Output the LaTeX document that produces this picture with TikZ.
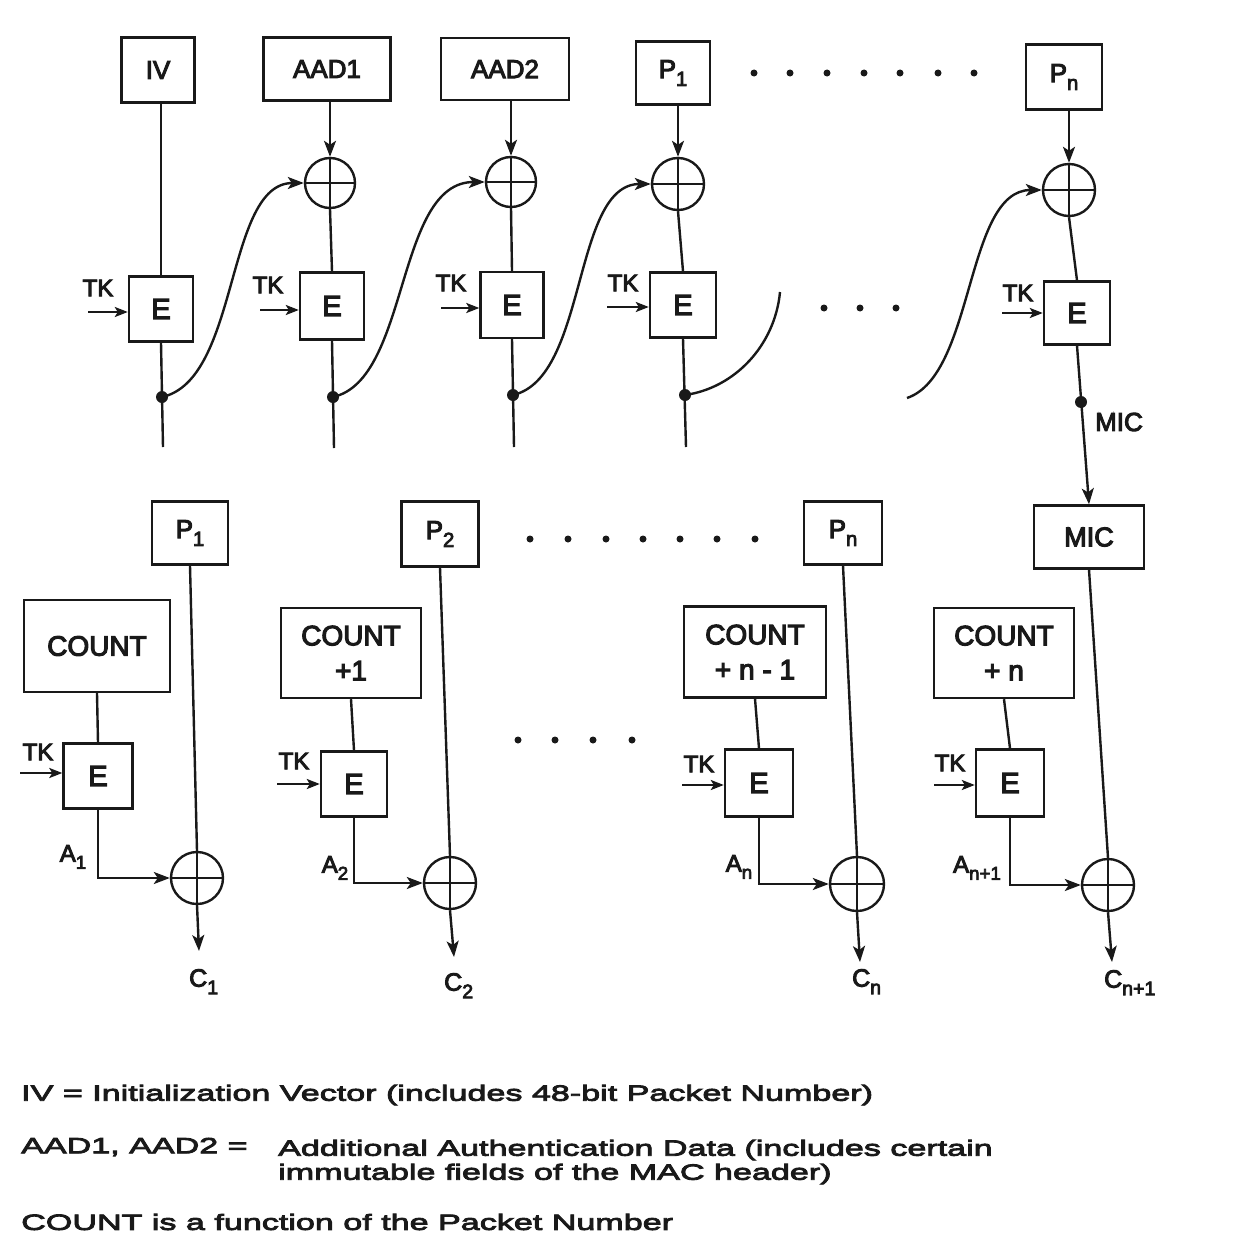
\documentclass[tikz,border=0pt]{standalone}
\usepackage{fontspec}
\usepackage{graphicx}
\setmainfont[FakeBold=4]{Liberation Sans}
\newfontfamily\legfont[FakeStretch=1.55,FakeBold=4]{Liberation Sans}
\usetikzlibrary{arrows.meta}
\definecolor{ink}{RGB}{25,25,25}
\newcommand\lsub[1]{\raisebox{-0.3em}{\scalebox{0.78}{#1}}}
\newcommand\fsz[1]{\fontsize{#1}{#1}\selectfont}
\begin{document}
\begin{tikzpicture}[x=1pt, y=-1pt, line width=2.4pt, color=ink,
  bx/.style={draw, line width=2.4pt, inner sep=0pt, font=\fsz{26}},
  ebx/.style={bx, font=\fsz{29}},
  cnt/.style={bx, align=center, font=\fontsize{28}{35}\selectfont},
  xorc/.style={circle, draw, line width=2.4pt, inner sep=0pt, minimum size=#1,
    path picture={\draw[line width=2.4pt] (path picture bounding box.north) -- (path picture bounding box.south)
      (path picture bounding box.west) -- (path picture bounding box.east);}},
  dotn/.style={circle, fill, inner sep=0pt, minimum size=12pt},
  sdot/.style={circle, fill, inner sep=0pt, minimum size=7pt},
  lbl/.style={inner sep=1pt, font=\fsz{24}},
  clbl/.style={inner sep=0pt, anchor=north west, font=\fsz{25}},
  arr/.style={-{Stealth[length=16pt,width=12pt,inset=4pt]}},
  arrs/.style={-{Stealth[length=13pt,width=10pt,inset=3pt]}},
  leg/.style={anchor=west, inner sep=0pt, font=\legfont\fsz{22}}]
\fill[white] (0,0) rectangle (1247,1239);
\useasboundingbox (0,0) rectangle (1247,1239);

% ---------------- top row ----------------
\node[bx, minimum width=73pt, minimum height=65pt] (iv) at (158,70) {IV};
\node[bx, minimum width=127pt, minimum height=63pt] (aad1) at (327,69) {AAD1};
\node[bx, minimum width=128pt, minimum height=62pt] (aad2) at (505,69) {AAD2};
\node[bx, minimum width=74pt, minimum height=63pt] (pt1) at (673,73) {P\lsub{1}};
\node[bx, minimum width=76pt, minimum height=65pt] (ptn) at (1064,77) {P\lsub{n}};

\node[xorc=50pt] (x1) at (330,183) {};
\node[xorc=50pt] (x2) at (511,182) {};
\node[xorc=52pt] (x3) at (678,184) {};
\node[xorc=52pt] (x4) at (1069,190) {};

\node[ebx, minimum width=64pt, minimum height=65pt] (e1) at (161,309) {E};
\node[ebx, minimum width=64pt, minimum height=67pt] (e2) at (332,306) {E};
\node[ebx, minimum width=63pt, minimum height=66pt] (e3) at (512,305) {E};
\node[ebx, minimum width=66pt, minimum height=65pt] (e4) at (683,305) {E};
\node[ebx, minimum width=66pt, minimum height=63pt] (e5) at (1077,313) {E};

\coordinate (b1) at (163,447);
\coordinate (b2) at (334,448);
\coordinate (b3) at (514,447);
\coordinate (b4) at (686,447);

\draw (iv.south -| e1.north) -- (e1.north);
\draw (e1.south) -- (b1);
\draw[arr] (aad1.south -| x1.north) -- (x1.north);
\draw (x1.south) -- (e2.north);
\draw (e2.south) -- (b2);
\draw[arr] (aad2.south -| x2.north) -- (x2.north);
\draw (x2.south) -- (e3.north);
\draw (e3.south) -- (b3);
\draw[arr] (pt1.south -| x3.north) -- (x3.north);
\draw (x3.south) -- (e4.north);
\draw (e4.south) -- (b4);
\draw[arr] (ptn.south -| x4.north) -- (x4.north);
\draw (x4.south) -- (e5.north);

\node[dotn] (d1) at (162,397) {};
\node[dotn] (d2) at (333,397) {};
\node[dotn] (d3) at (513,395) {};
\node[dotn] (d4) at (685,395) {};
\node[dotn] (d5) at (1081,402) {};

\draw[arr] (d1.center) .. controls (240,380) and (225,183) .. (x1.west);
\draw[arr] (d2.center) .. controls (410,380) and (395,182) .. (x2.west);
\draw[arr] (d3.center) .. controls (588,378) and (572,184) .. (x3.west);
\coordinate (f4) at (780,292);
\draw (d4.center) .. controls (735,388) and (775,345) .. (f4);
\coordinate (f5) at (907,398);
\draw[arr] (f5) .. controls (975,375) and (965,190) .. (x4.west);

% TK inputs (top)
\node[lbl] (tk1) at (98,288) {TK};
\coordinate (t1) at (88,312);
\draw[arrs] (t1) -- (t1 -| e1.west);
\node[lbl] (tk2) at (268,285) {TK};
\coordinate (t2) at (260,310);
\draw[arrs] (t2) -- (t2 -| e2.west);
\node[lbl] (tk3) at (451,283) {TK};
\coordinate (t3) at (441,308);
\draw[arrs] (t3) -- (t3 -| e3.west);
\node[lbl] (tk4) at (623,283) {TK};
\coordinate (t4) at (607,307);
\draw[arrs] (t4) -- (t4 -| e4.west);
\node[lbl] (tk5) at (1018,293) {TK};
\coordinate (t5) at (1002,313);
\draw[arrs] (t5) -- (t5 -| e5.west);

\node[lbl, font=\fsz{26}] (miclbl) at (1119,422) {MIC};

\foreach \xx in {754,790,827,864,900,938,974} \node[sdot] (sa\xx) at (\xx,73) {};
\foreach \xx in {824,860,896} \node[sdot] (sb\xx) at (\xx,308) {};

% ---------------- bottom row ----------------
\node[bx, minimum width=76pt, minimum height=63pt] (pb1) at (190,533) {P\lsub{1}};
\node[bx, minimum width=77pt, minimum height=65pt] (pb2) at (440,534) {P\lsub{2}};
\node[bx, minimum width=78pt, minimum height=63pt] (pbn) at (843,533) {P\lsub{n}};
\node[bx, minimum width=110pt, minimum height=63pt, font=\fsz{27}] (micb) at (1089,537) {MIC};

\draw[arr] (e5.south) -- (micb.north);

\node[bx, minimum width=146pt, minimum height=92pt, font=\fsz{28}] (cnt1) at (97,646) {COUNT};
\node[cnt, minimum width=140pt, minimum height=90pt] (cnt2) at (351,653) {COUNT\\+1};
\node[cnt, minimum width=142pt, minimum height=91pt] (cnt3) at (755,652) {COUNT\\+ n - 1};
\node[cnt, minimum width=140pt, minimum height=90pt] (cnt4) at (1004,653) {COUNT\\+ n};

\node[ebx, minimum width=69pt, minimum height=65pt] (e6) at (98,776) {E};
\node[ebx, minimum width=66pt, minimum height=65pt] (e7) at (354,784) {E};
\node[ebx, minimum width=68pt, minimum height=67pt] (e8) at (759,783) {E};
\node[ebx, minimum width=68pt, minimum height=67pt] (e9) at (1010,783) {E};

\node[xorc=52pt] (x5) at (197,878) {};
\node[xorc=52pt] (x6) at (450,883) {};
\node[xorc=54pt] (x7) at (857,884) {};
\node[xorc=52pt] (x8) at (1108,885) {};

\coordinate (tp1) at (199,951);
\coordinate (tp2) at (454,957);
\coordinate (tpn) at (860,962);
\coordinate (tpn1) at (1112,962);
\node[clbl] (c1) at (188,968) {C\lsub{1}};
\node[clbl] (c2) at (443,972) {C\lsub{2}};
\node[clbl] (cn) at (851,968) {C\lsub{n}};
\node[clbl] (cn1) at (1103,969) {C\lsub{n+1}};

\node[lbl] (a1) at (73,857) {A\lsub{1}};
\node[lbl] (a2) at (335,868) {A\lsub{2}};
\node[lbl] (an) at (739,867) {A\lsub{n}};
\node[lbl] (an1) at (977,868) {A\lsub{n+1}};

\draw (pb1.south) -- (x5.north);
\draw[arr] (x5.south) -- (tp1);
\draw (cnt1.south) -- (e6.north);
\draw[arr] (e6.south) |- (x5.west);

\draw (pb2.south) -- (x6.north);
\draw[arr] (x6.south) -- (tp2);
\draw (cnt2.south) -- (e7.north);
\draw[arr] (e7.south) |- (x6.west);

\draw (pbn.south) -- (x7.north);
\draw[arr] (x7.south) -- (tpn);
\draw (cnt3.south) -- (e8.north);
\draw[arr] (e8.south) |- (x7.west);

\draw (micb.south) -- (x8.north);
\draw[arr] (x8.south) -- (tpn1);
\draw (cnt4.south) -- (e9.north);
\draw[arr] (e9.south) |- (x8.west);

% TK inputs (bottom)
\node[lbl] (tk6) at (38,752) {TK};
\coordinate (t6) at (20,773);
\draw[arrs] (t6) -- (t6 -| e6.west);
\node[lbl] (tk7) at (294,761) {TK};
\coordinate (t7) at (277,784);
\draw[arrs] (t7) -- (t7 -| e7.west);
\node[lbl] (tk8) at (699,764) {TK};
\coordinate (t8) at (682,785);
\draw[arrs] (t8) -- (t8 -| e8.west);
\node[lbl] (tk9) at (950,763) {TK};
\coordinate (t9) at (934,785);
\draw[arrs] (t9) -- (t9 -| e9.west);

\foreach \xx in {530,568,606,643,680,717,755} \node[sdot] (sc\xx) at (\xx,539) {};
\foreach \xx in {518,555,593,632} \node[sdot] (sd\xx) at (\xx,740) {};

% ---------------- legend ----------------
\node[leg] (lg1) at (20,1095) {IV = Initialization Vector (includes 48-bit Packet Number)};
\node[leg] (lg2) at (20,1147) {AAD1, AAD2 =};
\node[leg] (lg3) at (277,1150) {Additional Authentication Data (includes certain};
\node[leg] (lg4) at (277,1174) {immutable fields of the MAC header)};
\node[leg] (lg5) at (20,1222) {COUNT is a function of the Packet Number};
\end{tikzpicture}
\end{document}
